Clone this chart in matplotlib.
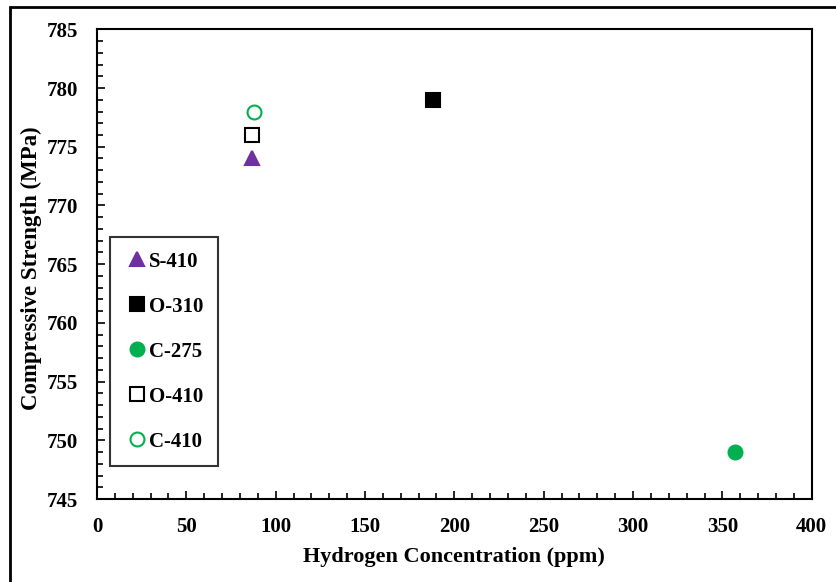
import matplotlib.pyplot as plt
from matplotlib.ticker import MultipleLocator
from matplotlib.patches import Rectangle

plt.rcParams['font.family'] = ['Liberation Serif', 'DejaVu Serif']
plt.rcParams['font.weight'] = 'bold'

names = ['S-410', 'O-310', 'C-275', 'O-410', 'C-410']
hydrogen = [87, 188, 357, 87, 88]
strength = [774, 779, 749, 776, 778]
markers = ['^', 's', 'o', 's', 'o']
faces = ['#7030A0', 'black', '#00B050', 'white', 'white']
edges = ['#7030A0', 'black', '#00B050', 'black', '#00B050']

fig = plt.figure(figsize=(8.36, 5.82), dpi=100)
ax = fig.add_axes([0.116, 0.1426, 0.855, 0.807])
# outer frame, cut off at the right and bottom like the original
fig.patches.append(Rectangle((0.012, -0.1), 1.2, 1.088, transform=fig.transFigure,
                             fill=False, edgecolor='black', linewidth=2))

for n, x, y, m, fc, ec in zip(names, hydrogen, strength, markers, faces, edges):
    ax.plot(x, y, linestyle='none', marker=m, markersize=10, markerfacecolor=fc,
            markeredgecolor=ec, markeredgewidth=1.5, label=n)

ax.set_xlim(0, 400)
ax.set_ylim(745, 785)
ax.xaxis.set_major_locator(MultipleLocator(50))
ax.xaxis.set_minor_locator(MultipleLocator(10))
ax.yaxis.set_major_locator(MultipleLocator(5))
ax.yaxis.set_minor_locator(MultipleLocator(1))
ax.tick_params(which='both', direction='in', labelsize=15, width=1.2)
ax.tick_params(which='major', length=6)
ax.tick_params(which='minor', length=4)
ax.tick_params(axis='x', which='both', top=False, pad=13)
ax.tick_params(axis='y', which='both', right=False, pad=13.5)
for s in ax.spines.values():
    s.set_linewidth(1.5)

ax.set_xlabel('Hydrogen Concentration (ppm)', fontsize=16, fontweight='bold')
ax.set_ylabel('Compressive Strength (MPa)', fontsize=16.5, fontweight='bold')
ax.xaxis.set_label_coords(0.499, -0.102)
ax.yaxis.set_label_coords(-0.077, 0.491)

leg = ax.legend(loc='lower left', bbox_to_anchor=(0.018, 0.07), fontsize=15,
                frameon=True, fancybox=False, edgecolor='black', labelspacing=1.2,
                handletextpad=0.0, handlelength=1.2, borderpad=0.7, borderaxespad=0)
leg.get_frame().set_linewidth(1.5)

fig.savefig('out.png', dpi=100)
